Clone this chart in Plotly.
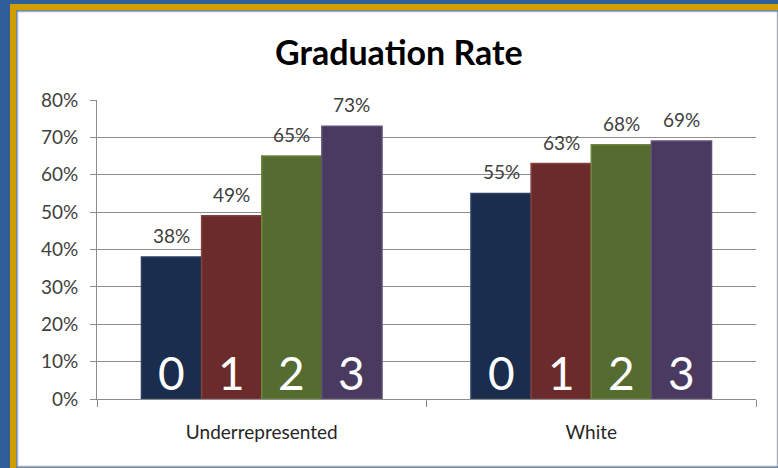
import plotly.graph_objects as go

categories = ["Underrepresented", "White"]
series_names = ["0", "1", "2", "3"]
values = [
    [0.38, 0.55],
    [0.49, 0.63],
    [0.65, 0.68],
    [0.73, 0.69],
]
colors = ["#1b2d4c", "#6b2b2a", "#566b2f", "#4a3a5f"]
edge_colors = ["#2a3f62", "#834140", "#6d853d", "#5f4e78"]

W, H = 778, 468
L, R, T, B = 97, 22, 100, 69
pw, ph = W - L - R, H - T - B


def px_x(x):
    return (x - L) / pw


def px_y(y):
    return (H - B - y) / ph


FONT = "Lato, 'Open Sans', sans-serif"

fig = go.Figure()
for i, name in enumerate(series_names):
    fig.add_trace(
        go.Bar(
            x=categories,
            y=values[i],
            name=name,
            marker=dict(color=colors[i], line=dict(color=edge_colors[i], width=1.5)),
            showlegend=False,
            hoverinfo="skip",
        )
    )

# bar offsets in pixels (4 bars of ~60px centered on the category)
offsets = [-90, -30, 30, 90]
annotations = []
for i, name in enumerate(series_names):
    for j, cat in enumerate(categories):
        annotations.append(
            dict(
                x=cat, y=values[i][j], xref="x", yref="y",
                text=f"{round(values[i][j] * 100)}%",
                showarrow=False, xshift=offsets[i], yanchor="bottom", yshift=8,
                font=dict(family=FONT, size=19, color="#404040"),
            )
        )
        annotations.append(
            dict(
                x=cat, y=0, xref="x", yref="y",
                text=name,
                showarrow=False, xshift=offsets[i], yanchor="bottom", yshift=-3,
                font=dict(family=FONT, size=46, color="white"),
            )
        )

annotations.append(
    dict(
        x=px_x(399), y=px_y(51), xref="paper", yref="paper",
        text="<b>Graduation Rate</b>", showarrow=False,
        xanchor="center", yanchor="middle",
        font=dict(family=FONT, size=34, color="#000000"),
    )
)

shapes = [
    dict(type="rect", xref="paper", yref="paper", layer="below",
         x0=px_x(10), x1=px_x(800), y0=px_y(4), y1=px_y(520),
         fillcolor="#d19d00", line=dict(width=0)),
    dict(type="rect", xref="paper", yref="paper", layer="below",
         x0=px_x(16), x1=px_x(800), y0=px_y(10), y1=px_y(520),
         fillcolor="#7088a8", line=dict(width=0)),
    dict(type="rect", xref="paper", yref="paper", layer="below",
         x0=px_x(18), x1=px_x(777), y0=px_y(12), y1=px_y(466),
         fillcolor="white", line=dict(color="#d8d8d8", width=1)),
]

fig.update_layout(
    width=W, height=H,
    margin=dict(l=L, r=R, t=T, b=B),
    paper_bgcolor="#2f5f98",
    plot_bgcolor="rgba(0,0,0,0)",
    barmode="group",
    bargap=0.27,
    bargroupgap=0,
    annotations=annotations,
    shapes=shapes,
    font=dict(family=FONT, color="#404040"),
)
fig.update_yaxes(
    range=[0, 0.8], dtick=0.1, tickformat=".0%",
    showgrid=True, gridcolor="#8c8c8c", gridwidth=1,
    showline=True, linecolor="#8c8c8c", linewidth=1,
    ticks="outside", ticklen=6, tickcolor="#8c8c8c",
    tickfont=dict(family=FONT, size=19, color="#404040"),
    ticklabelstandoff=8,
    zeroline=False,
    automargin=False,
)
fig.update_xaxes(
    showline=True, linecolor="#8c8c8c", linewidth=1,
    ticks="outside", ticklen=7, tickcolor="#8c8c8c", tickson="boundaries",
    tickfont=dict(family=FONT, size=19, color="#262626"),
    ticklabelstandoff=16,
    automargin=False,
)

# drop the page's default body margin so the figure fills the window
fig.write_html(
    "out.html",
    config={"displayModeBar": False},
    post_script="document.body.style.margin='0';",
)
